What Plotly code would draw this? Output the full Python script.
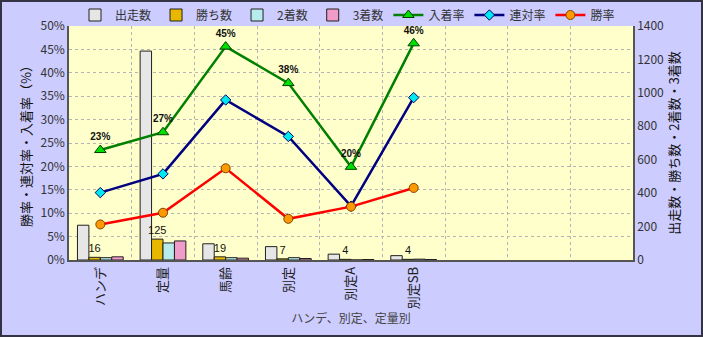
import plotly.graph_objects as go

categories = ["ハンデ", "定量", "馬齢", "別定", "別定A", "別定SB"]
starts = [208, 1250, 97, 80, 35, 26]        # 出走数
wins = [16, 125, 19, 7, 4, 4]               # 勝ち数
seconds = [14, 102, 14, 14, 0, 5]           # 2着数
thirds = [19, 114, 11, 9, 3, 3]             # 3着数
place_rate = [0.235, 0.273, 0.456, 0.378, 0.199, 0.463]   # 入着率
quinella_rate = [0.144, 0.184, 0.342, 0.264, 0.115, 0.347]  # 連対率
win_rate = [0.076, 0.101, 0.196, 0.088, 0.114, 0.154]     # 勝率
place_labels = ["23%", "27%", "45%", "38%", "20%", "46%"]
win_labels = ["16", "125", "19", "7", "4", "4"]

n_slots = 9
xs = list(range(len(categories)))
FONT = "Noto Sans CJK JP, Noto Sans, sans-serif"

fig = go.Figure()

bar_specs = [
    ("出走数", starts, "#E6E6E6", None),
    ("勝ち数", wins, "#E8B800", win_labels),
    ("2着数", seconds, "#B8ECEC", None),
    ("3着数", thirds, "#F09CC8", None),
]
for name, vals, col, labels in bar_specs:
    fig.add_trace(go.Bar(
        x=xs, y=vals, name=name, yaxis="y",
        marker=dict(color=col, line=dict(color="#202020", width=1)),
        text=labels, textposition="outside" if labels else None,
        textfont=dict(family="Liberation Sans", size=11, color="#111"),
        constraintext="none", cliponaxis=False,
    ))

line_specs = [
    ("入着率", place_rate, "#008000", "triangle-up", "#00E000", "#004000", 10, place_labels),
    ("連対率", quinella_rate, "#000080", "diamond", "#00E8F0", "#000060", 8, None),
    ("勝率", win_rate, "#FF0000", "circle", "#FF9900", "#804000", 9, None),
]
for name, vals, col, sym, fill, edge, size, labels in line_specs:
    fig.add_trace(go.Scatter(
        x=xs, y=vals, name=name, yaxis="y2",
        mode="lines+markers+text" if labels else "lines+markers",
        line=dict(color=col, width=2.5),
        marker=dict(symbol=sym, size=size, color=fill, line=dict(color=edge, width=1)),
        text=[f"<b>{t}</b>" for t in labels] if labels else None,
        textposition="top center",
        textfont=dict(family="Liberation Sans", size=10, color="#111"),
        cliponaxis=False,
    ))

fig.update_layout(
    width=703, height=337,
    margin=dict(l=69, r=70, t=26, b=77, autoexpand=False),
    paper_bgcolor="#CCCCFF",
    plot_bgcolor="#FFFFCC",
    barmode="group", bargap=0.27, bargroupgap=0,
    font=dict(family=FONT, size=12, color="#333"),
    showlegend=True,
    legend=dict(orientation="h", xref="container", yref="container",
                x=75/703, y=1 - 15/337, xanchor="left", yanchor="middle",
                bgcolor="rgba(0,0,0,0)", font=dict(size=12, color="#333"),
                itemwidth=30, traceorder="normal"),
    xaxis=dict(
        range=[-0.5, n_slots - 0.5],
        tickvals=xs, ticktext=categories, tickangle=-90,
        showgrid=False, zeroline=False,
        showline=True, linecolor="#555", linewidth=1.5,
        ticks="", tickfont=dict(size=13, color="#222"),
        minor=dict(tickvals=[i + 0.5 for i in range(n_slots - 1)], showgrid=True,
                   gridcolor="#B4B4B4", griddash="dot", gridwidth=1, ticks=""),
        title=dict(text="ハンデ、別定、定量別", font=dict(size=12, color="#444"), standoff=0),
    ),
    yaxis=dict(
        side="right", range=[0, 1400], tickvals=[0, 200, 400, 600, 800, 1000, 1200, 1400],
        showgrid=False, zeroline=False, showline=True, linecolor="#555", linewidth=1.5,
        ticks="", tickfont=dict(size=12, color="#333"),
        minor=dict(tickvals=[140 * k for k in range(1, 10)], showgrid=True,
                   gridcolor="#B4B4B4", griddash="dot", gridwidth=1, ticks=""),
        title=dict(text="出走数・勝ち数・2着数・3着数", font=dict(size=13, color="#111"), standoff=6),
    ),
    yaxis2=dict(
        overlaying="y", side="left", range=[0, 0.5], dtick=0.05, tickformat=".0%",
        showgrid=False, zeroline=False, showline=True, linecolor="#555", linewidth=1.5,
        ticks="", tickfont=dict(size=12, color="#333"),
        title=dict(text="勝率・連対率・入着率（%）", font=dict(size=13, color="#111"), standoff=6),
    ),
    shapes=[dict(type="rect", xref="paper", yref="paper",
                 x0=-68/564, x1=1 + 69/564, y0=-76/234, y1=1 + 25/234,
                 line=dict(color="#333344", width=2), fillcolor="rgba(0,0,0,0)", layer="above")],
)

fig.write_html("out.html")
